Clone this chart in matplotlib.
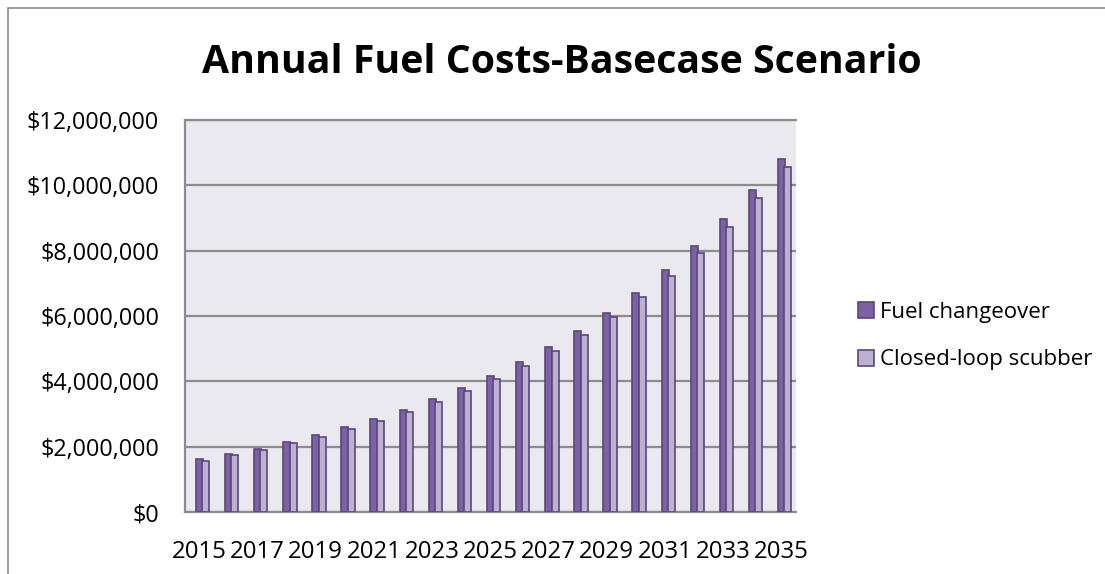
import numpy as np
import matplotlib as mpl
mpl.use('Agg')
import matplotlib.pyplot as plt
from matplotlib.patches import Rectangle
from matplotlib.ticker import FuncFormatter

plt.rcParams['font.family'] = ['Open Sans', 'DejaVu Sans']

years = list(range(2015, 2036))
# annual fuel cost in dollars
fuel_changeover = [1610000, 1780000, 1940000, 2140000, 2360000, 2590000, 2850000,
                   3120000, 3450000, 3790000, 4160000, 4590000, 5040000, 5540000,
                   6100000, 6710000, 7410000, 8140000, 8960000, 9860000, 10810000]
closed_loop = [1570000, 1740000, 1900000, 2100000, 2300000, 2530000, 2790000,
               3050000, 3360000, 3700000, 4070000, 4480000, 4940000, 5430000,
               5960000, 6570000, 7220000, 7940000, 8730000, 9610000, 10570000]
series_names = ['Fuel changeover', 'Closed-loop scubber']

dark = '#7d62a3'
light = '#bcb1cf'
edge = '#5b4680'

fig = plt.figure(figsize=(11.05, 5.74), dpi=100)
# outer chart frame
fig.patches.append(Rectangle((8 / 1105, -0.1), 1.2, 1 - 8 / 574 + 0.1,
                             transform=fig.transFigure, fill=False,
                             edgecolor='#8c8c8c', linewidth=1.2))

ax = fig.add_axes([0.1672, 0.108, 0.5532, 0.6829])
ax.set_facecolor('#ebe9f0')

x = np.arange(len(years))
w = 0.24
ax.bar(x, fuel_changeover, w, color=dark, edgecolor=edge, linewidth=1.2,
       label=series_names[0], zorder=3)
ax.bar(x + 0.22, closed_loop, w, color=light, edgecolor=edge, linewidth=1.2,
       label=series_names[1], zorder=3)

ax.set_xlim(-0.5, len(years) - 0.5)
ax.set_ylim(0, 12000000)
ax.set_yticks(np.arange(0, 12000001, 2000000))
ax.yaxis.set_major_formatter(FuncFormatter(lambda v, p: '${:,.0f}'.format(v)))
ax.set_xticks(x[::2])
ax.set_xticklabels([str(y) for y in years[::2]])
ax.grid(axis='y', color='#8c8c8c', linewidth=1.6, zorder=1)
ax.tick_params(axis='y', length=0, labelsize=16.8, colors='black', pad=18.5)
ax.tick_params(axis='x', length=0, labelsize=17.3, colors='black', pad=20.5)

ax.spines['right'].set_visible(False)
for side in ['left', 'top', 'bottom']:
    ax.spines[side].set_color('#8c8c8c')
    ax.spines[side].set_linewidth(1.6)

fig.text(0.508, 1 - 73 / 574, 'Annual Fuel Costs-Basecase Scenario', ha='center',
         va='baseline', fontsize=28.3, fontweight='bold')

fig.legend(loc='center left', bbox_to_anchor=(0.758, 0.4146), frameon=False,
           fontsize=16, handlelength=0.72, handleheight=0.72,
           handletextpad=0.28, labelspacing=1.2)

plt.savefig('out.png', dpi=100)
